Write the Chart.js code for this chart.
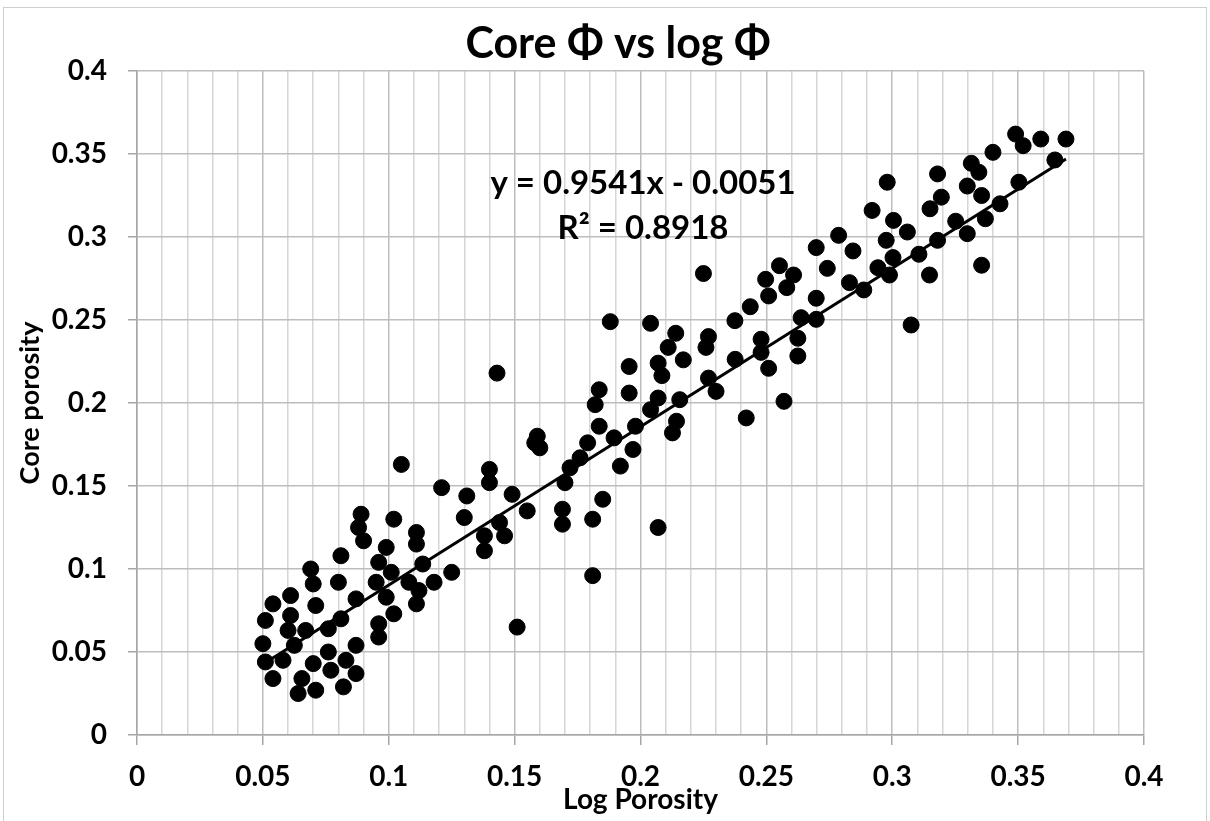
<!DOCTYPE html>
<html>
<head>
<meta charset="utf-8">
<title>Core Φ vs log Φ</title>
<script src="https://cdn.jsdelivr.net/npm/chart.js@4.4.1/dist/chart.umd.min.js"></script>
<style>
  html, body { margin: 0; padding: 0; background: #fff; overflow: hidden; }
  #wrap { position: relative; width: 1210px; height: 821px; }
  #frame { position: absolute; left: 3px; top: 7px; width: 1204px; height: 840px; border: 1px solid #cfcfcf; box-sizing: border-box; pointer-events: none; }
</style>
</head>
<body>
<div id="wrap">
  <canvas id="phiChart" width="1210" height="821"></canvas>
  <div id="frame"></div>
</div>
<script>
// log porosity (x) and core porosity (y), one entry per sample
const logPhi = [
  0.069, 0.070, 0.081, 0.080, 0.061, 0.054, 0.071, 0.051, 0.061, 0.060,
  0.067, 0.076, 0.050, 0.0625, 0.076, 0.051, 0.058, 0.070, 0.077, 0.054,
  0.0655, 0.064, 0.071, 0.082, 0.143, 0.105, 0.140, 0.140, 0.121, 0.131,
  0.149, 0.155, 0.089, 0.088, 0.090, 0.102, 0.130, 0.111, 0.111, 0.144,
  0.138, 0.146, 0.138, 0.099, 0.096, 0.1135, 0.101, 0.095, 0.108, 0.118,
  0.125, 0.112, 0.099, 0.087, 0.111, 0.102, 0.081, 0.096, 0.096, 0.087,
  0.151, 0.083, 0.087, 0.225, 0.188, 0.204, 0.214, 0.227, 0.2375, 0.211,
  0.226, 0.217, 0.2376, 0.1955, 0.207, 0.2085, 0.227, 0.230, 0.1836, 0.1955,
  0.182, 0.207, 0.204, 0.2156, 0.2143, 0.2127, 0.1836, 0.198, 0.159, 0.158,
  0.160, 0.1895, 0.179, 0.197, 0.176, 0.172, 0.192, 0.170, 0.185, 0.169,
  0.169, 0.181, 0.207, 0.181, 0.242, 0.3314, 0.3344, 0.318, 0.298, 0.3195,
  0.3298, 0.3355, 0.315, 0.292, 0.3005, 0.3252, 0.306, 0.3298, 0.337, 0.2787,
  0.2976, 0.318, 0.3106, 0.2698, 0.2844, 0.3003, 0.2943, 0.2989, 0.3148, 0.2742,
  0.2552, 0.2608, 0.2497, 0.2581, 0.2509, 0.283, 0.2887, 0.2436, 0.2698, 0.2638,
  0.2698, 0.3075, 0.2479, 0.2479, 0.2625, 0.2625, 0.2509, 0.257, 0.3355, 0.349,
  0.352, 0.359, 0.369, 0.340, 0.3646, 0.3503, 0.3428
];
const corePhi = [
  0.100, 0.091, 0.108, 0.092, 0.084, 0.079, 0.078, 0.069, 0.072, 0.063,
  0.063, 0.064, 0.055, 0.054, 0.050, 0.044, 0.045, 0.043, 0.039, 0.034,
  0.034, 0.025, 0.027, 0.029, 0.218, 0.163, 0.160, 0.152, 0.149, 0.144,
  0.145, 0.135, 0.133, 0.125, 0.117, 0.130, 0.131, 0.122, 0.115, 0.128,
  0.120, 0.120, 0.111, 0.113, 0.104, 0.103, 0.098, 0.092, 0.092, 0.092,
  0.098, 0.087, 0.083, 0.082, 0.079, 0.073, 0.070, 0.067, 0.059, 0.054,
  0.065, 0.045, 0.037, 0.278, 0.249, 0.248, 0.242, 0.240, 0.2496, 0.2335,
  0.2335, 0.226, 0.2263, 0.222, 0.224, 0.2165, 0.215, 0.207, 0.208, 0.206,
  0.199, 0.203, 0.196, 0.202, 0.189, 0.182, 0.186, 0.186, 0.180, 0.176,
  0.173, 0.179, 0.176, 0.172, 0.167, 0.161, 0.162, 0.152, 0.142, 0.136,
  0.127, 0.130, 0.125, 0.096, 0.191, 0.3444, 0.339, 0.338, 0.333, 0.324,
  0.3307, 0.325, 0.317, 0.316, 0.310, 0.3095, 0.303, 0.302, 0.311, 0.301,
  0.298, 0.298, 0.2896, 0.2936, 0.2916, 0.2876, 0.2815, 0.2771, 0.2771, 0.2811,
  0.2827, 0.2771, 0.2745, 0.2695, 0.2645, 0.2725, 0.2681, 0.258, 0.2631, 0.2514,
  0.2504, 0.247, 0.2384, 0.2305, 0.239, 0.2283, 0.2209, 0.201, 0.283, 0.362,
  0.355, 0.359, 0.359, 0.351, 0.3464, 0.333, 0.320
];

// linear trend reported on the chart
const trendSlope = 0.9541;
const trendIntercept = -0.0051;
const rSquared = 0.8918;

const axisMin = 0;
const axisMax = 0.4;
const minorStep = 0.01;
const majorStep = 0.05;

const chartTitle = 'Core Φ vs log Φ';
const FONT = 'Lato, "Noto Sans", sans-serif';

const points = logPhi.map((v, i) => ({ x: v, y: corePhi[i] }));
const xLo = Math.min(...logPhi);
const xHi = Math.max(...logPhi);
const trendPoints = [xLo, xHi].map(v => ({ x: v, y: trendSlope * v + trendIntercept }));

const isMajor = (i) => i % Math.round(majorStep / minorStep) === 0;

// title sits a little right of the canvas centre, so it is drawn by hand
const titleText = {
  id: 'titleText',
  afterDraw(chart) {
    const { ctx } = chart;
    ctx.save();
    ctx.font = 'bold 43px ' + FONT;
    ctx.fillStyle = '#000';
    ctx.textAlign = 'center';
    ctx.textBaseline = 'alphabetic';
    ctx.fillText(chartTitle, chart.width / 2 + 13, 58);
    ctx.restore();
  }
};

// trendline equation and R² drawn in data space
const equationLabel = {
  id: 'equationLabel',
  afterDatasetsDraw(chart) {
    const { ctx, scales: { x, y } } = chart;
    const cx = x.getPixelForValue(0.201);
    ctx.save();
    ctx.font = 'bold 33px ' + FONT;
    ctx.fillStyle = '#000';
    ctx.textAlign = 'center';
    ctx.textBaseline = 'middle';
    ctx.fillText('y = ' + trendSlope + 'x - ' + Math.abs(trendIntercept), cx, y.getPixelForValue(0.3325));
    ctx.fillText('R² = ' + rSquared, cx, y.getPixelForValue(0.3055));
    ctx.restore();
  }
};

new Chart(document.getElementById('phiChart').getContext('2d'), {
  type: 'scatter',
  data: {
    datasets: [{
      label: 'Core porosity',
      data: points,
      backgroundColor: '#000',
      borderColor: '#000',
      borderWidth: 1,
      pointRadius: 8,
      pointHoverRadius: 8
    }, {
      label: 'Linear trend',
      type: 'line',
      data: trendPoints,
      borderColor: '#000',
      borderWidth: 3,
      pointRadius: 0,
      fill: false
    }]
  },
  options: {
    responsive: false,
    animation: false,
    devicePixelRatio: 1,
    layout: { padding: { left: 0, right: 66, top: 71, bottom: 0 } },
    plugins: {
      legend: { display: false },
      tooltip: { enabled: false },
      title: { display: false }
    },
    scales: {
      x: {
        type: 'linear',
        position: 'bottom',
        min: axisMin,
        max: axisMax,
        afterFit: (scale) => { scale.height = 86; },
        ticks: {
          stepSize: minorStep,
          autoSkip: false,
          maxRotation: 0,
          padding: 15,
          color: '#000',
          font: { family: FONT, size: 28, weight: 'bold' },
          callback: (v, i) => isMajor(i) ? String(Number(v.toFixed(2))) : ''
        },
        grid: {
          color: (c) => isMajor(c.index) ? '#bdbdbd' : '#d6d6d6',
          tickColor: (c) => isMajor(c.index) ? '#a6a6a6' : 'rgba(0,0,0,0)',
          tickLength: 10,
          lineWidth: 1.5
        },
        border: { color: '#a6a6a6', width: 1.5 },
        title: {
          display: true,
          text: 'Log Porosity',
          color: '#000',
          font: { family: FONT, size: 28, weight: 'bold' },
          padding: { top: 0, bottom: 4 }
        }
      },
      y: {
        min: axisMin,
        max: axisMax,
        afterFit: (scale) => { scale.width = 137; },
        ticks: {
          stepSize: majorStep,
          padding: 21,
          color: '#000',
          font: { family: FONT, size: 28, weight: 'bold' },
          callback: (v) => String(Number(v.toFixed(2)))
        },
        grid: {
          color: '#bdbdbd',
          tickColor: '#a6a6a6',
          tickLength: 9,
          lineWidth: 1.5
        },
        border: { color: '#a6a6a6', width: 1.5 },
        title: {
          display: true,
          text: 'Core porosity',
          color: '#000',
          font: { family: FONT, size: 27, weight: 'bold' },
          padding: { top: 14, bottom: 0 }
        }
      }
    }
  },
  plugins: [equationLabel, titleText]
});
</script>
</body>
</html>
